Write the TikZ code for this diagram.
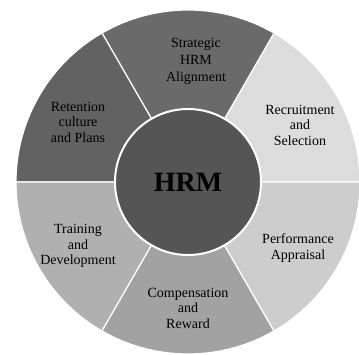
\documentclass[tikz,border=0pt]{standalone}
\usepackage{fontspec}
\setmainfont{Liberation Serif}
\usetikzlibrary{positioning}
\definecolor{hrmcore}{HTML}{555555}
\definecolor{hrmstrategic}{HTML}{6A6A6A}
\definecolor{hrmretention}{HTML}{626262}
\definecolor{hrmrecruit}{HTML}{DCDCDC}
\definecolor{hrmperform}{HTML}{CDCDCD}
\definecolor{hrmcompens}{HTML}{A2A2A2}
\definecolor{hrmtraining}{HTML}{B0B0B0}

\begin{document}
\begin{tikzpicture}[
      x=1pt, y=1pt,
      sector/.style={draw=white, line width=1.2pt, fill=#1},
      sectortext/.style={align=center, font=\fontsize{14}{15.5}\selectfont, text=black},
      core/.style={circle, draw=white, line width=2pt, fill=hrmcore, minimum size=146pt, inner sep=0pt, font=\fontsize{28}{30}\selectfont\bfseries}
  ]
    \useasboundingbox (0,0) rectangle (359,355);
    \coordinate (hub) at (188,173);

    % wheel segments
    \draw[sector=hrmrecruit] (hub) -- ++(0:172) arc[start angle=0, end angle=60, radius=172] -- cycle;
    \draw[sector=hrmstrategic] (hub) -- ++(60:172) arc[start angle=60, end angle=120, radius=172] -- cycle;
    \draw[sector=hrmretention] (hub) -- ++(120:172) arc[start angle=120, end angle=180, radius=172] -- cycle;
    \draw[sector=hrmtraining] (hub) -- ++(180:172) arc[start angle=180, end angle=240, radius=172] -- cycle;
    \draw[sector=hrmcompens] (hub) -- ++(240:172) arc[start angle=240, end angle=300, radius=172] -- cycle;
    \draw[sector=hrmperform] (hub) -- ++(300:172) arc[start angle=300, end angle=360, radius=172] -- cycle;

    \node[core] (hrm) at (hub) {HRM};

    \node[sectortext, font=\fontsize{14}{17}\selectfont] (strategic) at (196,294) {Strategic\\HRM\\Alignment};
    \node[sectortext] (recruit) at (300,230) {Recruitment\\and\\Selection};
    \node[sectortext] (perform) at (298,107) {Performance\\Appraisal};
    \node[sectortext] (compens) at (188,47) {Compensation\\and\\Reward};
    \node[sectortext] (training) at (78,109) {Training\\and\\Development};
    \node[sectortext] (retention) at (78,233) {Retention\\culture\\and Plans};
  \end{tikzpicture}
\end{document}
